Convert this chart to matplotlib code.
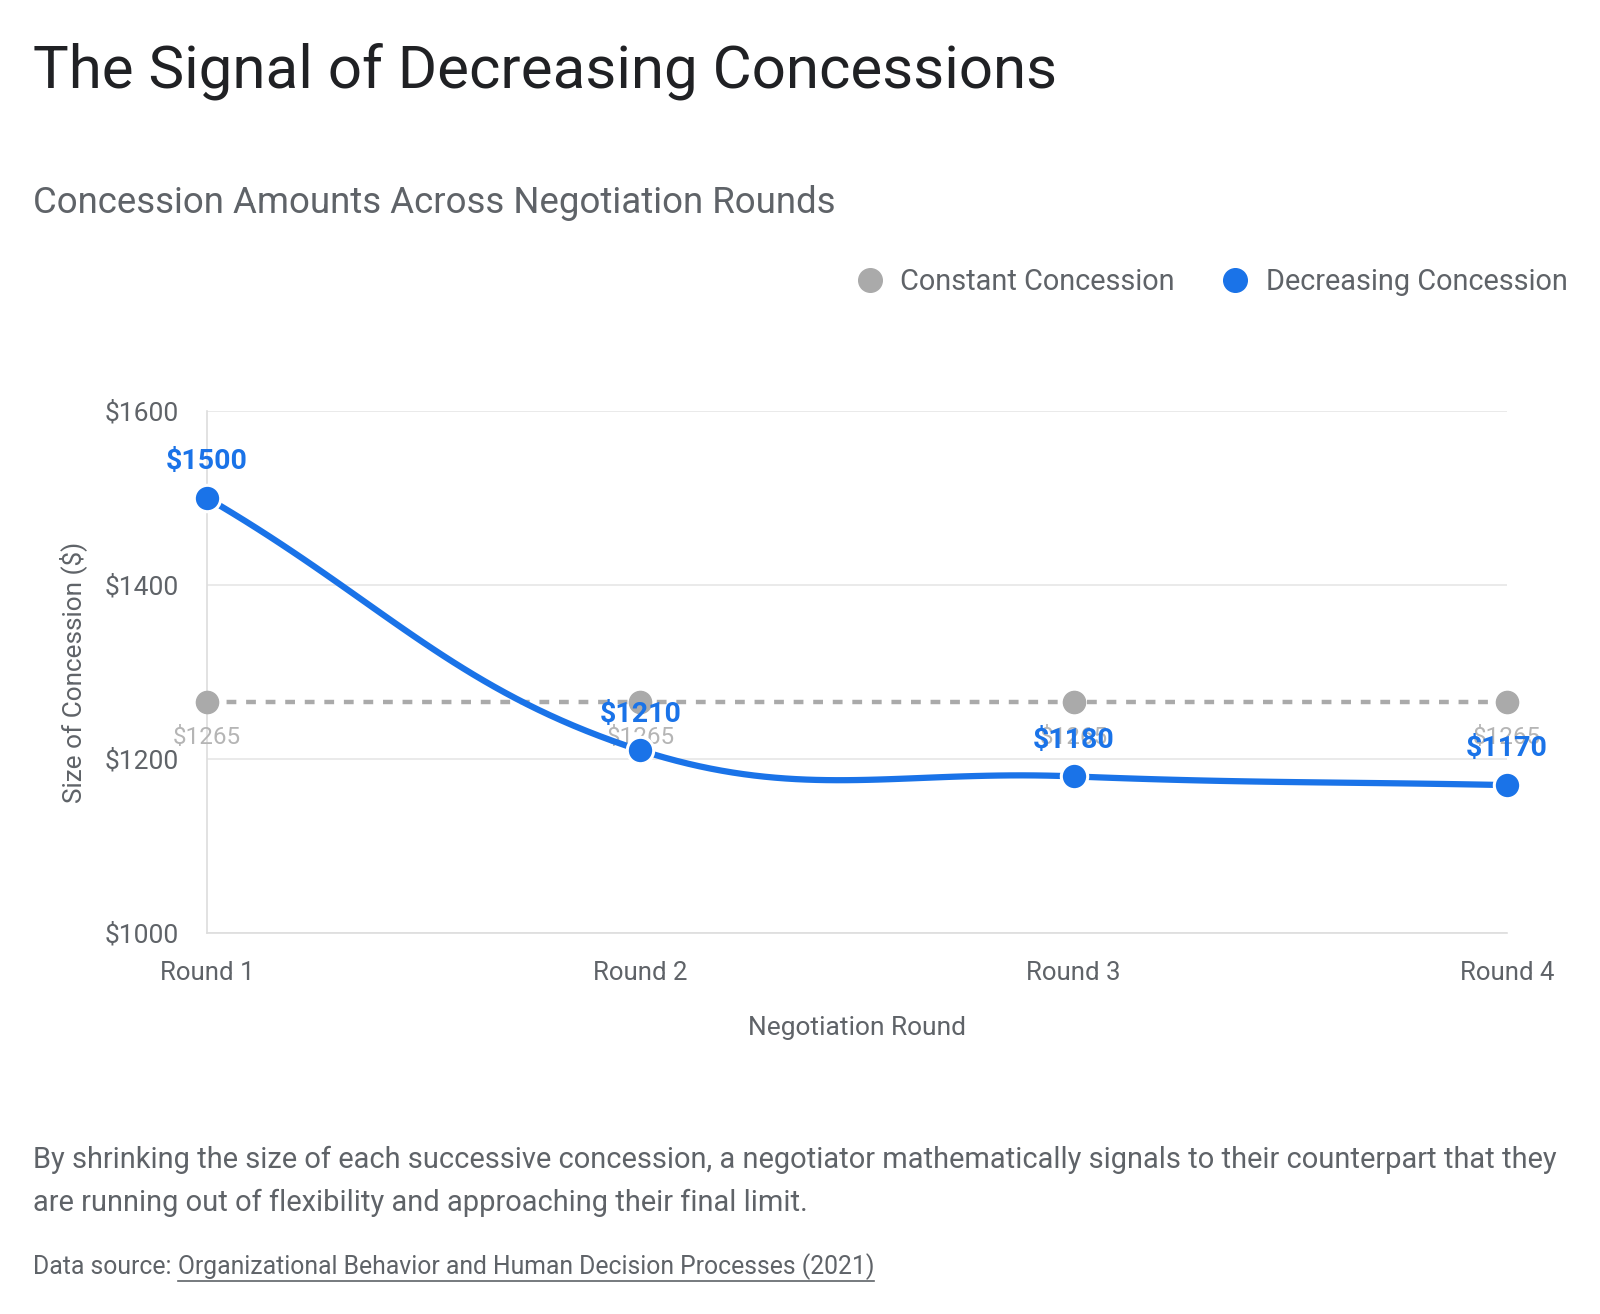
import numpy as np
import matplotlib
matplotlib.use("Agg")
import matplotlib.pyplot as plt
from matplotlib.lines import Line2D

plt.rcParams['font.family'] = ['Roboto', 'DejaVu Sans']

rounds = ["Round 1", "Round 2", "Round 3", "Round 4"]
constant = [1265, 1265, 1265, 1265]
decreasing = [1500, 1210, 1180, 1170]
yticks = [1000, 1200, 1400, 1600]

BLUE = "#1a73e8"
GRAY = "#aaaaaa"
TXT = "#5f6368"
DARK = "#202124"

W, H = 1600, 1314
fig = plt.figure(figsize=(W / 100, H / 100), dpi=100)

# axes in pixel coords: left 207, right 1507, top 411, bottom 933
l, r, t, b = 207, 1507, 411, 933
ax = fig.add_axes([l / W, 1 - b / H, (r - l) / W, (b - t) / H])
x = np.arange(len(rounds))
ax.set_xlim(0, len(rounds) - 1)
ax.set_ylim(1000, 1600)


def spline(xs, ys, tension=0.4, n=40):
    # Chart.js style cubic bezier smoothing computed in pixel space
    pts = ax.transData.transform(np.column_stack([xs, ys]))
    m = len(pts)
    cps = []
    for i in range(m):
        p0 = pts[i - 1] if i > 0 else pts[i]
        p1 = pts[i]
        p2 = pts[i + 1] if i < m - 1 else pts[i]
        d01 = np.hypot(*(p1 - p0))
        d12 = np.hypot(*(p2 - p1))
        s01 = d01 / (d01 + d12) if d01 + d12 else 0
        s12 = d12 / (d01 + d12) if d01 + d12 else 0
        fa = tension * s01
        fb = tension * s12
        cps.append((p1 - fa * (p2 - p0), p1 + fb * (p2 - p0)))
    out = []
    tt = np.linspace(0, 1, n)[:, None]
    for i in range(m - 1):
        a = pts[i]
        c1 = cps[i][1]
        c2 = cps[i + 1][0]
        d = pts[i + 1]
        seg = (1 - tt) ** 3 * a + 3 * (1 - tt) ** 2 * tt * c1 + 3 * (1 - tt) * tt ** 2 * c2 + tt ** 3 * d
        out.append(seg)
    out = np.vstack(out)
    return ax.transData.inverted().transform(out)


ax.set_yticks(yticks)
ax.set_yticklabels([f"${v}" for v in yticks])
ax.set_xticks(x)
ax.set_xticklabels(rounds)
ax.grid(axis="y", color="#e6e6e6", linewidth=1.2)
ax.set_axisbelow(True)
for s in ["top", "right"]:
    ax.spines[s].set_visible(False)
for s in ["left", "bottom"]:
    ax.spines[s].set_color("#dddddd")
    ax.spines[s].set_linewidth(1.2)
ax.tick_params(length=0, colors=TXT)
ax.tick_params(axis="y", labelsize=19, pad=20)
ax.tick_params(axis="x", labelsize=18.5, pad=20)
ax.set_xlabel("Negotiation Round", fontsize=19, color=TXT, labelpad=22.5)
ax.set_ylabel("Size of Concession ($)", fontsize=18.8, color=TXT, labelpad=13)

# constant series
ax.plot(x, constant, color=GRAY, linewidth=3.2, linestyle=(0, (2.2, 2.2)),
        marker="o", markersize=16, markerfacecolor=GRAY, markeredgecolor=GRAY, zorder=3,
        clip_on=False)
for xi, v in zip(x, constant):
    ax.annotate(f"${v}", (xi, v), xytext=(0, -25.5), textcoords="offset points",
                ha="center", va="center", fontsize=17.5, color="#b5b5b5", zorder=4,
                annotation_clip=False)

# decreasing series (smoothed)
curve = spline(x, decreasing)
ax.plot(curve[:, 0], curve[:, 1], color=BLUE, linewidth=4.5, zorder=5, clip_on=False,
        solid_capstyle="round")
ax.plot(x, decreasing, linestyle="none", marker="o", markersize=19, markerfacecolor=BLUE,
        markeredgecolor="white", markeredgewidth=2.2, zorder=6, clip_on=False)
for xi, v in zip(x, decreasing):
    ax.annotate(f"${v}", (xi, v), xytext=(0, 26), textcoords="offset points",
                ha="center", va="center", fontsize=20.5, color=BLUE, fontweight="bold",
                zorder=7, annotation_clip=False)

# titles
fig.text(33 / W, 1 - 71 / H, "The Signal of Decreasing Concessions", fontsize=43.2,
         color=DARK, ha="left", va="center")
fig.text(33 / W, 1 - 203 / H, "Concession Amounts Across Negotiation Rounds", fontsize=26.4,
         color=TXT, ha="left", va="center")

# legend
handles = [
    Line2D([], [], linestyle="none", marker="o", markersize=17, markerfacecolor=GRAY,
           markeredgecolor=GRAY, label="Constant Concession"),
    Line2D([], [], linestyle="none", marker="o", markersize=17, markerfacecolor=BLUE,
           markeredgecolor=BLUE, label="Decreasing Concession"),
]
fig.legend(handles=handles, loc="center right", bbox_to_anchor=(1579 / W, 1 - 282 / H),
           ncol=2, frameon=False, fontsize=20.8, labelcolor=TXT, handletextpad=0.45,
           columnspacing=1.5, handlelength=1.2, borderaxespad=0)

# footer
fig.text(33 / W, 1 - 1160 / H,
         "By shrinking the size of each successive concession, a negotiator mathematically signals to their counterpart that they",
         fontsize=20.9, color=TXT, ha="left", va="center")
fig.text(33 / W, 1 - 1203 / H,
         "are running out of flexibility and approaching their final limit.",
         fontsize=20.9, color=TXT, ha="left", va="center")
t1 = fig.text(33 / W, 1 - 1267 / H, "Data source: ", fontsize=17.8, color=TXT, ha="left",
              va="center")
fig.canvas.draw()
bb = t1.get_window_extent()
t2 = fig.text(bb.x1 / W, 1 - 1267 / H,
              "Organizational Behavior and Human Decision Processes (2021)", fontsize=17.8,
              color=TXT, ha="left", va="center")
fig.canvas.draw()
bb2 = t2.get_window_extent()
yline = bb2.y0 - 1
fig.add_artist(Line2D([bb2.x0 / W, bb2.x1 / W], [yline / H, yline / H], color=TXT,
                      linewidth=1.2))

fig.savefig("out.png", dpi=100)
